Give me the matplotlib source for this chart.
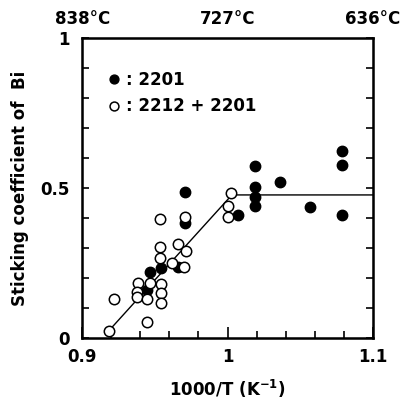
import matplotlib
matplotlib.use("Agg")
import matplotlib.pyplot as plt
import numpy as np

# 2201 (filled)
x_2201 = [0.945, 0.9467, 0.954, 0.966, 0.9708, 0.971, 1.007, 1.019, 1.019,
          1.019, 1.019, 1.036, 1.057, 1.079, 1.079, 1.079]
y_2201 = [0.16, 0.22, 0.233, 0.237, 0.487, 0.383, 0.41, 0.573, 0.503,
          0.47, 0.44, 0.52, 0.437, 0.623, 0.577, 0.41]

# 2212 + 2201 (open)
x_mix = [0.9186, 0.922, 0.9447, 0.9385, 0.9467, 0.954, 0.938, 0.938, 0.945,
         0.954, 0.954, 0.9536, 0.9536, 0.9536, 0.962, 0.966, 0.9715, 0.97,
         0.971, 1.0, 1.0, 1.0024]
y_mix = [0.023, 0.13, 0.053, 0.183, 0.183, 0.18, 0.153, 0.137, 0.13,
         0.15, 0.117, 0.267, 0.303, 0.397, 0.25, 0.313, 0.29, 0.237,
         0.403, 0.403, 0.44, 0.483]

# guide line
line_x = [0.9186, 1.003, 1.1]
line_y = [0.025, 0.477, 0.477]

top_ticks_c = [838, 727, 636]

plt.rcParams['font.family'] = ['DejaVu Sans']
plt.rcParams['font.weight'] = 'bold'
plt.rcParams['mathtext.default'] = 'bf'

fig = plt.figure(figsize=(4.07, 4.07), dpi=100)
ax = fig.add_axes([0.2015, 0.1695, 0.715, 0.737])

ax.plot(line_x, line_y, color='black', lw=1.0, zorder=1)
ax.plot(x_2201, y_2201, 'o', ms=7.5, mfc='black', mec='black', mew=1.0,
        ls='none', label=': 2201', zorder=2)
ax.plot(x_mix, y_mix, 'o', ms=7.5, mfc='white', mec='black', mew=1.1,
        ls='none', label=': 2212 + 2201', zorder=3)

ax.set_xlim(0.9, 1.1)
ax.set_ylim(0, 1)
ax.set_xticks([0.9, 1.0, 1.1])
ax.set_xticklabels(['0.9', '1', '1.1'])
ax.set_xticks(np.arange(0.9, 1.1001, 0.02), minor=True)
ax.set_yticks([0, 0.5, 1])
ax.set_yticklabels(['0', '0.5', '1'])
ax.set_yticks(np.arange(0, 1.001, 0.1), minor=True)
ax.tick_params(which='both', direction='in', top=True, right=True,
               labelsize=12, width=1.2)
ax.tick_params(which='major', length=8, pad=7)
ax.tick_params(which='minor', length=5)
ax.tick_params(axis='y', which='major', length=5, pad=9)
for s in ax.spines.values():
    s.set_linewidth(1.8)

# temperature labels along the top
ax2 = ax.twiny()
ax2.set_xlim(ax.get_xlim())
ax2.set_xticks([1000 / (t + 273) for t in top_ticks_c])
ax2.set_xticklabels([f'{t}°C' for t in top_ticks_c])
ax2.tick_params(length=0, labelsize=12, pad=7)
ax2.set_xticks([], minor=True)

ax.set_xlabel('1000/T (K$^{-1}$)', fontsize=12, fontweight='bold', labelpad=9)
ax.set_ylabel('Sticking coefficient of  Bi', fontsize=12, fontweight='bold', labelpad=8)

leg = ax.legend(loc='upper left', bbox_to_anchor=(0.04, 0.94), frameon=False,
                handlelength=0.6, handletextpad=0.45, labelspacing=0.5,
                markerscale=0.85, prop={'size': 12, 'weight': 'bold'})

fig.savefig('out.png', dpi=100)
